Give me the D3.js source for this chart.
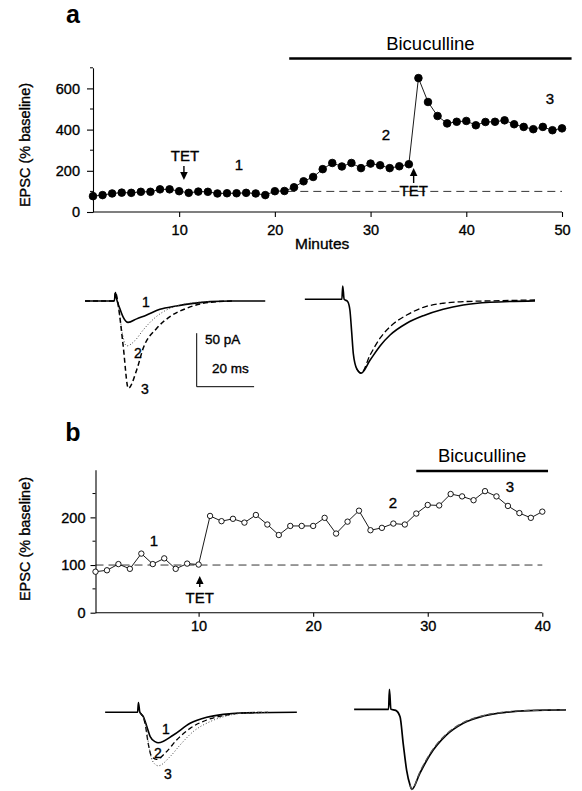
<!DOCTYPE html>
<html><head><meta charset="utf-8">
<script src="https://cdn.jsdelivr.net/npm/d3@7"></script>
<style>body{margin:0;background:#fff} text{font-family:"Liberation Sans",Arial,sans-serif;fill:#000}
text.h{stroke:#000;stroke-width:0.35px}</style>
</head><body><svg id="c" width="582" height="791"></svg>
<script>
// ---------- DATA ----------
const minutesA = [1,2,3,4,5,6,7,8,9,10,11,12,13,14,15,16,17,18,19,20,21,22,23,24,25,26,27,28,29,30,31,32,33,34,35,36,37,38,39,40,41,42,43,44,45,46,47,48,49,50];
const epscA = [77,82,90,94,93,98,98,110,110,101,93,99,98,90,91,91,93,90,82,101,102,120,149,170,208,238,221,238,213,235,227,213,222,232,650,534,466,430,438,442,421,437,438,445,426,413,402,413,397,406];
const minutesB = [1,2,3,4,5,6,7,8,9,10,11,12,13,14,15,16,17,18,19,20,21,22,23,24,25,26,27,28,29,30,31,32,33,34,35,36,37,38,39,40];
const epscB = [86,89,102,92,124,102,114,92,103,101,203,192,197,189,205,185,163,182,182,182,199,166,191,214,173,178,187,185,208,226,225,249,244,236,255,244,224,209,199,212];
const yTicksA = [0,200,400,600], yMinorA = [100,300,500,700], xTicksA = [10,20,30,40,50];
const yTicksB = [0,100,200], yMinorB = [50,150,250], xTicksB = [10,20,30,40];
const baselinePct = 100;
const bicA = [21.5, 51], bicB = [29, 40.5];
const tetA = [10.5, 34.5], tetB = [10.1];
// traces: [ms, pA]
const trA1 = [[-10.8,0],[-0.6,0],[-0.2,8],[0.3,1],[1.2,-6],[2.5,-15],[4.2,-20],[7.2,-16.7],[10.7,-13],[15.3,-7.8],[21.1,-4.7],[26.9,-2.2],[32.8,-0.6],[40,0],[52,0]];
const trA2 = [[0.3,1],[1.0,-8],[2.2,-30],[3.7,-42],[6.6,-37],[9.5,-27],[13,-17],[16.5,-10],[21.1,-4.7],[26.9,-1.6],[33,-0.5]];
const trA3 = [[-10.8,0],[-0.6,0],[-0.2,8],[0.5,1],[1.2,-12],[2.5,-42],[4.3,-81.6],[7.2,-64.5],[9.5,-44],[14.2,-25.5],[18.8,-14.6],[24.6,-6.8],[32.8,-1.2],[41,0]];
const trA4 = [[-13.4,0],[-0.5,0],[-0.2,12.5],[0.3,0],[1.5,-2],[2.3,-10],[2.9,-30],[3.5,-51],[4.7,-65],[6.2,-69],[9.3,-57],[12.8,-43.6],[16.3,-33.4],[22.1,-22.4],[27.9,-15.3],[34.8,-9.3],[41.8,-5.3],[51.1,-2.8],[66.8,-1.5]];
const trA5 = [[4.7,-65],[6.2,-69],[9.3,-52.3],[12.8,-36.4],[16.3,-25.6],[22.1,-14.7],[27.9,-7.5],[34.8,-3.7],[41.8,-2.2],[51.1,-1.5],[66.8,-0.6]];
const trB1 = [[-11.8,0],[-0.5,0],[-0.2,9],[0.3,0],[1.5,-4],[2.7,-13],[3.9,-22.7],[5.6,-27.4],[6.7,-28.4],[12,-21.2],[17.8,-10.3],[23.6,-4.7],[29.4,-1.9],[35,-0.6],[55,0]];
const trB2 = [[0.3,0],[2.1,-10.3],[3.2,-29],[4.4,-41.4],[6.1,-44],[9.6,-36.8],[13.1,-25.9],[17.8,-15],[23.6,-7.2],[29.4,-3.1],[35,-0.9],[45,0]];
const trB3 = [[0.3,0],[2.3,-10],[3.4,-31],[4.6,-45],[6.7,-50],[10.8,-41.5],[14.3,-30.6],[18.9,-18],[24.7,-8.8],[30.5,-3.4],[36,-0.8],[45,0]];
const trB4 = [[-12.5,0],[-0.5,0],[-0.2,18.7],[0.3,0],[2,-1],[3.5,-7],[4.6,-32],[5.8,-57],[7,-71],[7.6,-74.8],[10.4,-59.8],[13.9,-42.7],[19.7,-24],[25.5,-13.1],[32.5,-6.3],[40.6,-2.7],[48.8,-1.2],[61.3,-0.6]];
const trB5 = [[7,-71],[7.6,-74.8],[10.4,-58.5],[13.9,-41.5],[19.7,-23],[25.5,-12.4],[32.5,-5.8],[40.6,-2.3],[48.8,-1.0],[61.3,-0.4]];
const scaleBar = {pA:50, ms:20};

// ---------- DRAW ----------
const svg = d3.select('#c');
const FS = 14.5;

function panel(cfg){
  const g = svg.append('g');
  const x = d3.scaleLinear().domain(cfg.xd).range(cfg.xr);
  const y = d3.scaleLinear().domain(cfg.yd).range(cfg.yr);
  const ya = g.append('g').attr('transform',`translate(${cfg.xr[0]},0)`)
    .call(d3.axisLeft(y).tickValues(cfg.yt).tickSize(cfg.tl).tickSizeOuter(0).tickPadding(cfg.tp));
  ya.selectAll('text').attr('class','h').style('font-size',FS+'px').style('font-family','"Liberation Sans",Arial,sans-serif');
  ya.selectAll('path,line').attr('stroke','#000').attr('stroke-width',1.1);
  g.append('g').selectAll('line').data(cfg.ym).join('line')
    .attr('x1',cfg.xr[0]).attr('x2',cfg.xr[0]-3)
    .attr('y1',d=>y(d)).attr('y2',d=>y(d)).attr('stroke','#000');
  const xa = g.append('g').attr('transform',`translate(0,${cfg.yr[0]})`)
    .call(d3.axisBottom(x).tickValues(cfg.xt).tickSize(cfg.xtl).tickSizeOuter(0).tickPadding(cfg.xtp));
  xa.select('.domain').attr('d',`M${cfg.xr[0]},0H${cfg.xr[1]}`);
  xa.selectAll('text').attr('class','h').style('font-size',FS+'px').style('font-family','"Liberation Sans",Arial,sans-serif');
  xa.selectAll('path,line').attr('stroke','#000').attr('stroke-width',1.1);
  g.append('line').attr('x1',x(cfg.dash[0])).attr('x2',x(cfg.dash[1]))
    .attr('y1',y(baselinePct)).attr('y2',y(baselinePct))
    .attr('stroke','#000').attr('stroke-width',0.8).attr('stroke-dasharray','8,5');
  const data = cfg.xs.map((d,i)=>[d,cfg.ys[i]]);
  g.append('path').datum(data).attr('d',d3.line().x(d=>x(d[0])).y(d=>y(d[1])))
    .attr('fill','none').attr('stroke','#000').attr('stroke-width',0.9);
  g.selectAll('circle').data(data).join('circle')
    .attr('cx',d=>x(d[0])).attr('cy',d=>y(d[1])).attr('r',cfg.r)
    .attr('fill',cfg.filled?'#000':'#fff').attr('stroke','#000').attr('stroke-width',0.9);
  g.append('line').attr('x1',x(cfg.bic[0])).attr('x2',x(cfg.bic[1]))
    .attr('y1',cfg.bicY).attr('y2',cfg.bicY).attr('stroke','#000').attr('stroke-width',2.4);
  g.append('text').attr('x',(x(cfg.bic[0])+x(cfg.bic[1]))/2).attr('y',cfg.bicY-9)
    .attr('text-anchor','middle').style('font-size','18.5px').text('Bicuculline');
  return {g,x,y};
}

function arrow(g, x, yTip, yTail){
  const dir = yTail>yTip?1:-1;
  g.append('line').attr('x1',x).attr('x2',x).attr('y1',yTip+dir*6).attr('y2',yTail)
    .attr('stroke','#000').attr('stroke-width',1.4);
  g.append('path').attr('d',`M${x},${yTip}L${x-3.8},${yTip+dir*8}L${x+3.8},${yTip+dir*8}Z`).attr('fill','#000');
}
function label(g,x,y,t,fs,anchor,weight,cls){
  g.append('text').attr('x',x).attr('y',y).attr('text-anchor',anchor||'middle')
    .attr('class',cls===undefined?'h':cls)
    .style('font-size',(fs||FS)+'px').style('font-weight',weight||'normal').text(t);
}

// Panel a
const A = panel({xd:[1,50],xr:[93,562],yd:[0,700],yr:[212,67.8],yt:yTicksA,ym:yMinorA,tl:6,tp:7,
  xt:xTicksA,xtl:5,xtp:8,dash:[21.3,50],xs:minutesA,ys:epscA,r:3.8,filled:true,bic:bicA,bicY:58.5});
label(A.g,73,23,'a',25,'middle','bold','');
label(A.g,185,161,'TET',15);
arrow(A.g,A.x(tetA[0]),180,166);
arrow(A.g,A.x(tetA[1]),168,183);
label(A.g,A.x(tetA[1]),196,'TET',15);
label(A.g,239,170,'1',15);
label(A.g,386,140,'2',15);
label(A.g,550,104,'3',15);
label(A.g,295,249,'Minutes',15.5,'start');
svg.append('text').attr('class','h').attr('transform','translate(30,145) rotate(-90)').attr('text-anchor','middle')
  .style('font-size','14.5px').text('EPSC (% baseline)');

// Panel b
const B = panel({xd:[1,40],xr:[95.5,542.3],yd:[0,300],yr:[612.7,469.7],yt:yTicksB,ym:yMinorB,tl:5,tp:5,
  xt:xTicksB,xtl:4,xtp:4,dash:[1,40],xs:minutesB,ys:epscB,r:2.7,filled:false,bic:bicB,bicY:471});
label(B.g,73,441,'b',25,'middle','bold','');
arrow(B.g,B.x(tetB[0]),576,587);
label(B.g,B.x(tetB[0]),603,'TET',15);
label(B.g,154,546,'1',15);
label(B.g,393,508,'2',15);
label(B.g,510,492,'3',15);
svg.append('text').attr('class','h').attr('transform','translate(30,539) rotate(-90)').attr('text-anchor','middle')
  .style('font-size','14.5px').text('EPSC (% baseline)');

// Traces
const PXMS = 2.87, PXPA = 1.07;
function traces(x0, yBase, list){
  const x = d3.scaleLinear().domain([0,1]).range([x0, x0+PXMS]);
  const y = d3.scaleLinear().domain([0,1]).range([yBase, yBase-PXPA]);
  const line = d3.line().x(d=>x(d[0])).y(d=>y(d[1])).curve(d3.curveMonotoneX);
  list.forEach(t=>{
    svg.append('path').datum(t.d).attr('d',line).attr('fill','none').attr('stroke',t.c||'#000')
      .attr('stroke-width',t.w||1.3).attr('stroke-dasharray',t.dash||null);
  });
  return {x,y};
}
traces(116,301,[{d:trA1,w:1.6},{d:trA2,w:1,dash:'1,2',c:'#444'},{d:trA3,w:1.5,dash:'5,3'}]);
label(svg,146,307,'1',14);
label(svg,138,358,'2',14);
label(svg,145,394,'3',14);
{
  const sx = 196.7, sy = 386.7;
  svg.append('path').attr('d',`M${sx},${sy-scaleBar.pA*PXPA}V${sy}H${sx+scaleBar.ms*PXMS}`)
    .attr('fill','none').attr('stroke','#000').attr('stroke-width',1);
  label(svg,205,344,scaleBar.pA+' pA',13.5,'start');
  label(svg,212,373,scaleBar.ms+' ms',13.5,'start');
}
traces(343.3,299.3,[{d:trA4,w:1.6},{d:trA5,w:1.3,dash:'6,3'}]);
traces(139,712.3,[{d:trB1,w:1.6},{d:trB2,w:1.3,dash:'5,3'},{d:trB3,w:1,dash:'1,2',c:'#444'}]);
label(svg,166,734,'1',14);
label(svg,158,758,'2',14);
label(svg,168,779,'3',14);
traces(390,709.3,[{d:trB4,w:1.7},{d:trB5,w:1.2,dash:'6,3',c:'#555'}]);
</script></body></html>
